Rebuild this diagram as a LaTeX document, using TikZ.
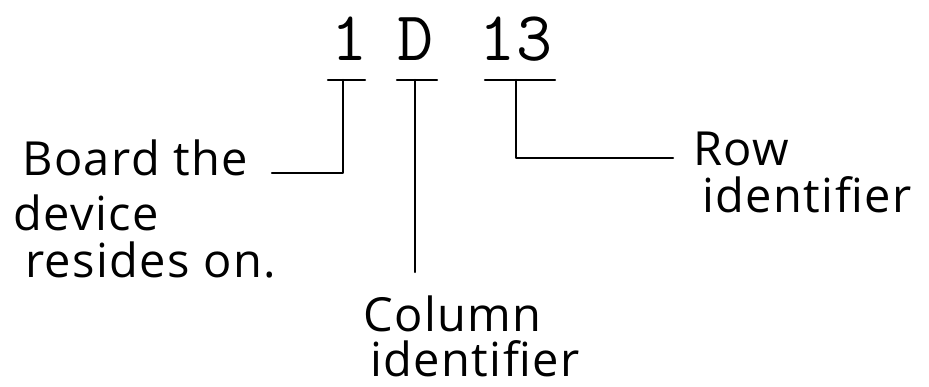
\documentclass[tikz,border=0pt]{standalone}
\usepackage{fontspec}
\setmainfont[LetterSpace=3]{Open Sans}
\begin{document}
\begin{tikzpicture}[x=1pt,y=-1pt,
  lbl/.style={font=\fontsize{47}{50}\selectfont, inner sep=0pt, anchor=base west},
  code/.style={font=\ttfamily\fontsize{70}{70}\selectfont, inner sep=0pt, anchor=base},
  ln/.style={line width=2.2pt, line cap=round, line join=round}]
\useasboundingbox (0,0) rectangle (929,386);
% code characters
\node[code] (c1) at (350,60) {1};
\node[code] (cD) at (416,60) {D};
\node[code] (c13) at (516,60) {13};
% labels
\node[lbl] (board1) at (22,175) {Board the};
\node[lbl] (board2) at (13,230) {device};
\node[lbl] (board3) at (25,277) {resides on.};
\node[lbl] (col1) at (363,331) {Column};
\node[lbl] (col2) at (370,376) {identifier};
\node[lbl] (row1) at (693,165) {Row};
\node[lbl] (row2) at (702,212) {identifier};
% coordinates for brackets
\coordinate (b1l) at (328,80);
\coordinate (b1r) at (365,80);
\coordinate (s1) at (343,80);
\coordinate (k1) at (343,173);
\coordinate (e1) at (272,173);
\coordinate (bDl) at (397,80);
\coordinate (bDr) at (437,80);
\coordinate (sD) at (415,80);
\coordinate (eD) at (415,272);
\coordinate (b13l) at (485,80);
\coordinate (b13r) at (555,80);
\coordinate (s13) at (516,80);
\coordinate (k13) at (516,158);
\coordinate (e13) at (673,158);
% brackets
\draw[ln] (b1l) -- (b1r);
\draw[ln] (s1) -- (k1) -- (e1);
\draw[ln] (bDl) -- (bDr);
\draw[ln] (sD) -- (eD);
\draw[ln] (b13l) -- (b13r);
\draw[ln] (s13) -- (k13) -- (e13);
\end{tikzpicture}
\end{document}
